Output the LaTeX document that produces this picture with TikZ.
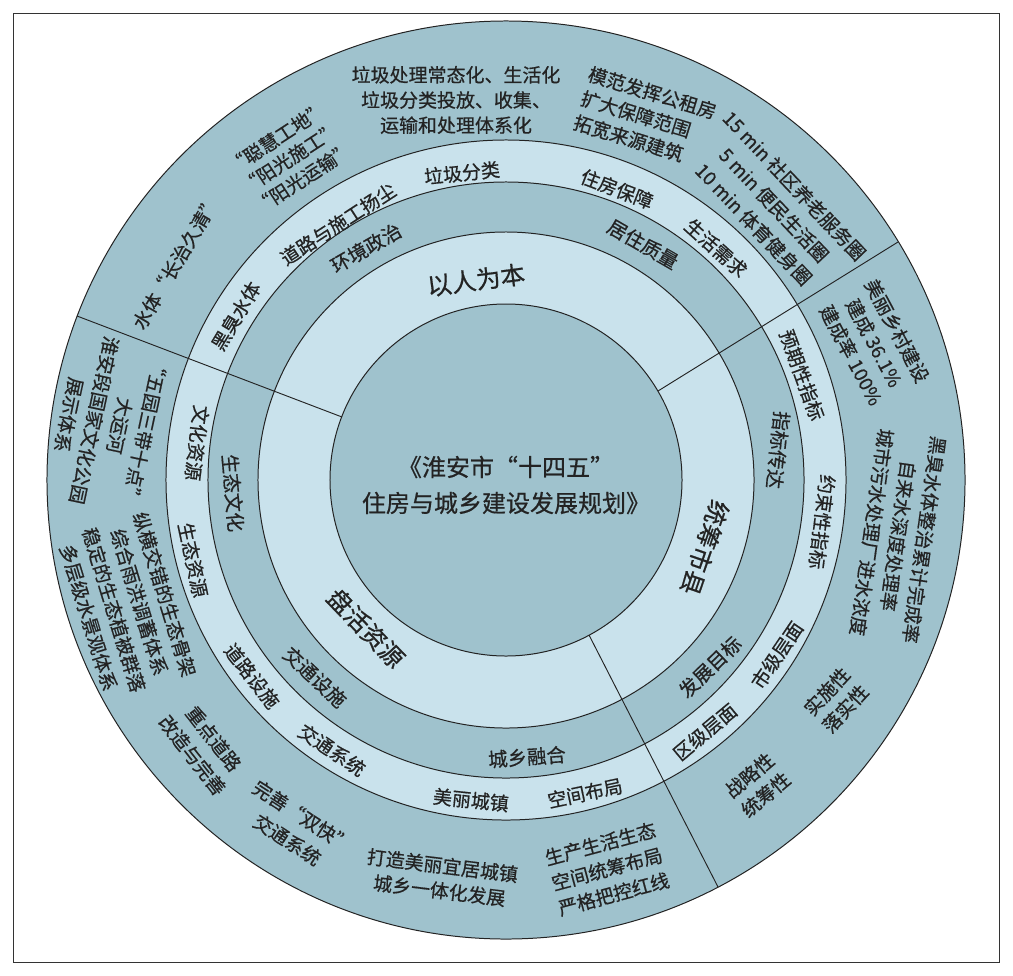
\documentclass[tikz,border=0pt]{standalone}
\usepackage{fontspec}
\setmainfont{Noto Sans CJK SC}[FakeBold=0.6]
\definecolor{ringdark}{RGB}{159,194,205}
\definecolor{ringlight}{RGB}{201,226,236}
\definecolor{inkc}{RGB}{35,35,35}
\tikzset{
  ringline/.style={draw=inkc, line width=0.85pt},
  sepline/.style={draw=inkc, line width=0.8pt},
  frameline/.style={draw=black!80, line width=0.8pt},
  outertxt/.style={font=\fontsize{16.2pt}{21.5pt}\selectfont, align=center, inner sep=0pt, text=inkc},
  bandtxt/.style={font=\fontsize{16.2pt}{20pt}\selectfont, inner sep=0pt, text=inkc},
  darktxt/.style={font=\fontsize{16.6pt}{20pt}\selectfont, inner sep=0pt, text=inkc},
  coretxt/.style={font=\fontsize{21pt}{26pt}\selectfont, inner sep=0pt, text=inkc},
  titletxt/.style={font=\fontsize{20.5pt}{30.7pt}\selectfont, align=center, inner sep=0pt, text=inkc}
}
\begin{document}
\begin{tikzpicture}[x=0.03cm, y=-0.03cm]
\useasboundingbox (0,0) rectangle (1013,975);
\fill[white] (0,0) rectangle (1013,975);
\draw[frameline] (13.5,13.5) rectangle (999,962);

\coordinate (c) at (506,480);
\draw[ringline, fill=ringdark] (c) circle (13.77cm);
\draw[ringline, fill=ringlight] (c) circle (10.2cm);
\draw[ringline, fill=ringdark] (c) circle (8.94cm);
\draw[ringline, fill=ringlight] (c) circle (7.44cm);
\draw[ringline, fill=ringdark] (c) circle (5.28cm);

% separating lines
\coordinate (l1a) at (658,391); \coordinate (l1b) at (898,242);
\coordinate (l2a) at (342,417); \coordinate (l2b) at (77,316);
\coordinate (l3a) at (589,635); \coordinate (l3b) at (718,887);
\draw[sepline] (l1a) -- (l1b);
\draw[sepline] (l2a) -- (l2b);
\draw[sepline] (l3a) -- (l3b);

% centre
\node[titletxt] (title) at (506,485) {《淮安市“十四五”\\住房与城乡建设发展规划》};

% inner light ring
\node[coretxt, rotate=7.5] (yirenweiben) at (476,280) {以人为本};
\node[coretxt, rotate=-109] (tongchou) at (705,548) {统筹市县};
\node[coretxt, rotate=-46] (panhuo) at (366,628) {盘活资源};

% dark ring
\node[darktxt, rotate=30] (d1) at (366,248) {环境政治};
\node[darktxt, rotate=-30] (d2) at (643,244) {居住质量};
\node[darktxt, rotate=-96] (d3) at (778,450) {指标传达};
\node[darktxt, rotate=44] (d4) at (710,667) {发展目标};
\node[darktxt, rotate=4] (d5) at (527,757) {城乡融合};
\node[darktxt, rotate=-43] (d6) at (315,677) {交通设施};
\node[darktxt, rotate=-85] (d7) at (233,493) {生态文化};

% light band
\node[bandtxt, rotate=6] (b1) at (462,173) {垃圾分类};
\node[bandtxt, rotate=-21] (b2) at (617,189) {住房保障};
\node[bandtxt, rotate=-42] (b3) at (716,248) {生活需求};
\node[bandtxt, rotate=33] (b4) at (338,224) {道路与施工扬尘};
\node[bandtxt, rotate=59] (b5) at (236,316) {黑臭水体};
\node[bandtxt, rotate=-97] (b6) at (197,443) {文化资源};
\node[bandtxt, rotate=-78] (b7) at (193,560) {生态资源};
\node[bandtxt, rotate=-52] (b8) at (252,676) {道路设施};
\node[bandtxt, rotate=-34] (b9) at (332,750) {交通系统};
\node[bandtxt, rotate=-6] (b10) at (471,800) {美丽城镇};
\node[bandtxt, rotate=12] (b11) at (585,793) {空间布局};
\node[bandtxt, rotate=40] (b12) at (705,732) {区级层面};
\node[bandtxt, rotate=56] (b13) at (777,655) {市级层面};
\node[bandtxt, rotate=-97] (b14) at (822,522) {约束性指标};
\node[bandtxt, rotate=-70] (b15) at (802,375) {预期性指标};

% outer ring
\node[outertxt] (o1) at (456,100) {垃圾处理常态化、生活化\\垃圾分类投放、收集、\\运输和处理体系化};
\node[outertxt, align=left, rotate=-17] (o2) at (645,117) {模范发挥公租房\\扩大保障范围\\拓宽来源建筑};
\node[outertxt, font=\fontsize{16.2pt}{23.9pt}\selectfont, rotate=-46.5] (o3) at (774,205) {15 min 社区养老服务圈\\5 min 便民生活圈\\10 min 体育健身圈};
\node[outertxt, font=\fontsize{16.2pt}{20.5pt}\selectfont, rotate=33] (o4) at (290,158) {“聪慧工地”\\“阳光施工”\\“阳光运输”};
\node[outertxt, rotate=59.5] (o5) at (176,262) {水体“长治久清”};
\node[outertxt, font=\fontsize{16.2pt}{22.2pt}\selectfont, rotate=-102] (o6) at (107,423) {“五园三带十点”\\大运河\\淮安段国家文化公园\\展示体系};
\node[outertxt, font=\fontsize{16.2pt}{22.6pt}\selectfont, rotate=-73] (o7) at (126.5,606) {纵横交错的生态骨架\\综合雨洪调蓄体系\\稳定的生态植被群落\\多层级水景观体系};
\node[outertxt, font=\fontsize{16.2pt}{23pt}\selectfont, rotate=-52] (o8) at (203,747) {重点道路\\改造与完善};
\node[outertxt, font=\fontsize{16.2pt}{23.9pt}\selectfont, rotate=-33] (o9) at (295,828) {完善“双快”\\交通系统};
\node[outertxt, rotate=-7] (o10) at (441,878) {打造美丽宜居城镇\\城乡一体化发展};
\node[outertxt, font=\fontsize{16.2pt}{22.2pt}\selectfont, rotate=15] (o11) at (607,869) {生产生活生态\\空间统筹布局\\严格把控红线};
\node[outertxt, rotate=40] (o12) at (757.5,785) {战略性\\统筹性};
\node[outertxt, rotate=47] (o13) at (836,700) {实施性\\落实性};
\node[outertxt, font=\fontsize{16.2pt}{22.6pt}\selectfont, rotate=-98] (o14) at (898,536) {黑臭水体整治累计完成率\\自来水深度处理率\\城市污水处理厂进水浓度};
\node[outertxt, font=\fontsize{16.2pt}{22.2pt}\selectfont, rotate=-62] (o15) at (874,343) {美丽乡村建设\\建成 36.1\%\\建成率 100\%};
\end{tikzpicture}
\end{document}
